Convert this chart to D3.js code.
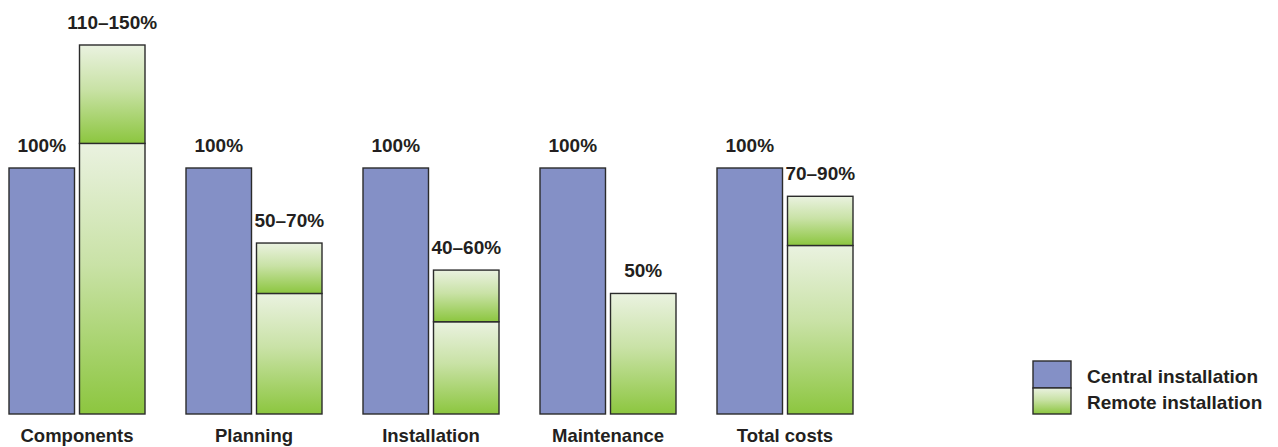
<!DOCTYPE html>
<html><head><meta charset="utf-8">
<script src="https://cdn.jsdelivr.net/npm/d3@7"></script>
<style>body{margin:0;background:#fff;} text{font-family:"Liberation Sans",Arial,sans-serif;font-weight:bold;fill:#231f20;}</style>
</head><body><svg id="c" width="1278" height="447"></svg>
<script>
const categories = ["Components","Planning","Installation","Maintenance","Total costs"];
const centralValues = [100,100,100,100,100];
const remoteLow = [110,49,37.5,49,68.5];
const remoteHigh = [150,69.5,58.5,null,88.5];
const centralLabels = ["100%","100%","100%","100%","100%"];
const remoteLabels = ["110–150%","50–70%","40–60%","50%","70–90%"];
const seriesNames = ["Central installation","Remote installation"];

const svg = d3.select("#c");
const defs = svg.append("defs");
const g = defs.append("linearGradient").attr("id","gr").attr("x1",0).attr("y1",0).attr("x2",0).attr("y2",1);
g.append("stop").attr("offset","0%").attr("stop-color","#eaf2e0");
g.append("stop").attr("offset","45%").attr("stop-color","#c9e2a6");
g.append("stop").attr("offset","100%").attr("stop-color","#8cc63f");

const x = d3.scaleBand().domain(categories).range([9,853]).paddingInner(41/177).paddingOuter(0);
const sub = d3.scaleBand().domain(["c","r"]).range([0,x.bandwidth()]).paddingInner(5/70.5);
const y = d3.scaleLinear().domain([0,150]).range([414,45]);
const blue = "#8490c6", stroke = "#2b2b2b";

const grp = svg.selectAll("g.cat").data(categories).enter().append("g")
  .attr("transform", d => `translate(${x(d)},0)`);

grp.append("rect").attr("x", sub("c")).attr("width", sub.bandwidth())
  .attr("y", (d,i)=>y(centralValues[i])).attr("height",(d,i)=>y(0)-y(centralValues[i]))
  .attr("fill",blue).attr("stroke",stroke).attr("stroke-width",1.4);

grp.append("rect").attr("x", sub("r")).attr("width", sub.bandwidth())
  .attr("y", (d,i)=>y(remoteLow[i])).attr("height",(d,i)=>y(0)-y(remoteLow[i]))
  .attr("fill","url(#gr)").attr("stroke",stroke).attr("stroke-width",1.4);

grp.filter((d,i)=>remoteHigh[i]!=null).append("rect").attr("x", sub("r")).attr("width", sub.bandwidth())
  .attr("y", d=>y(remoteHigh[categories.indexOf(d)]))
  .attr("height", d=>{const i=categories.indexOf(d);return y(remoteLow[i])-y(remoteHigh[i]);})
  .attr("fill","url(#gr)").attr("stroke",stroke).attr("stroke-width",1.4);

grp.append("text").attr("x", sub("c")+sub.bandwidth()/2).attr("y",(d,i)=>y(centralValues[i])-16)
  .attr("text-anchor","middle").attr("font-size",19).text((d,i)=>centralLabels[i]);
grp.append("text").attr("x", sub("r")+sub.bandwidth()/2)
  .attr("y",(d,i)=>y(remoteHigh[i]!=null?remoteHigh[i]:remoteLow[i])-16)
  .attr("text-anchor","middle").attr("font-size",19).text((d,i)=>remoteLabels[i]);
grp.append("text").attr("x", x.bandwidth()/2).attr("y",442)
  .attr("text-anchor","middle").attr("font-size",18.5).text(d=>d);

const lg = svg.append("g").attr("transform","translate(1033,361)");
lg.append("rect").attr("width",38).attr("height",27).attr("fill",blue).attr("stroke",stroke).attr("stroke-width",1.4);
lg.append("rect").attr("y",27).attr("width",38).attr("height",26).attr("fill","url(#gr)").attr("stroke",stroke).attr("stroke-width",1.4);
lg.selectAll("text.l").data(seriesNames).enter().append("text").attr("x",54).attr("y",(d,i)=>22+i*26)
  .attr("font-size",19).text(d=>d);
</script></body></html>
